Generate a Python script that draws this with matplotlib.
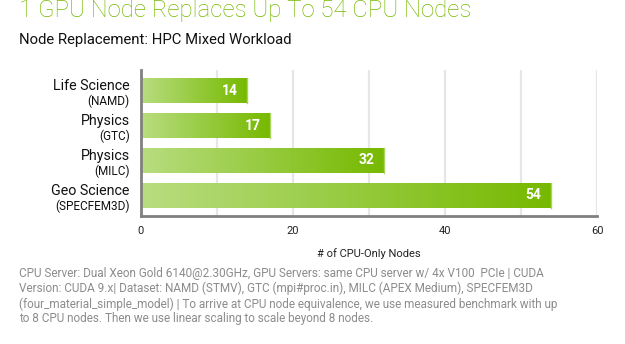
import numpy as np
import matplotlib.pyplot as plt
from matplotlib.colors import LinearSegmentedColormap

# data
domains = ['Life Science', 'Physics', 'Physics', 'Geo Science']
apps = ['(NAMD)', '(GTC)', '(MILC)', '(SPECFEM3D)']
cpu_nodes = [14, 17, 32, 54]
x_ticks = [0, 20, 40, 60]

title = '1 GPU Node Replaces Up To 54 CPU Nodes'
subtitle = 'Node Replacement: HPC Mixed Workload'
x_label = '# of CPU-Only Nodes'
footnote = ('CPU Server: Dual Xeon Gold 6140@2.30GHz, GPU Servers: same CPU server w/ 4x V100  PCIe | CUDA\n'
            'Version: CUDA 9.x| Dataset: NAMD (STMV), GTC (mpi#proc.in), MILC (APEX Medium), SPECFEM3D\n'
            '(four_material_simple_model) | To arrive at CPU node equivalence, we use measured benchmark with up\n'
            'to 8 CPU nodes. Then we use linear scaling to scale beyond 8 nodes.')

nv_green = '#76b900'
grad = LinearSegmentedColormap.from_list('nv', ['#b8dd80', nv_green])

plt.rcParams['font.family'] = ['Roboto', 'DejaVu Sans']

fig = plt.figure(figsize=(6.25, 3.44), dpi=100)
ax = fig.add_axes([141 / 625, 1 - 216 / 344, (597 - 141) / 625, (216 - 70) / 344])

y = np.arange(len(cpu_nodes))
bar_h = 0.71
bars = ax.barh(y, cpu_nodes, height=bar_h, color='none', edgecolor='none', zorder=2)

# fill each bar with its own left-to-right gradient
g = np.linspace(0, 1, 256).reshape(1, -1)
for b, v, yi in zip(bars, cpu_nodes, y):
    im = ax.imshow(g, cmap=grad, aspect='auto', interpolation='bilinear',
                   extent=[0, v, yi + bar_h / 2, yi - bar_h / 2], zorder=2)
    im.set_clip_path(b)
    ax.plot([v, v], [yi - bar_h / 2, yi + bar_h / 2], color='#a9d35c', lw=1, zorder=3)
    ax.text(v - 1.3, yi, str(v), color='white', ha='right', va='center',
            fontsize=10, fontweight='bold', zorder=4)

ax.set_xlim(0, 60)
ax.set_ylim(len(cpu_nodes) - 1 + 0.586, -0.586)

ax.set_xticks(np.arange(0, 61, 10), minor=True)
ax.set_xticks(x_ticks)
ax.set_xticklabels([str(t) for t in x_ticks], fontsize=8, color='#222222')
ax.xaxis.grid(True, which='both', color='#e6e6e6', lw=1.6, zorder=0)
ax.set_axisbelow(True)
ax.tick_params(axis='x', which='both', length=0, pad=7)
ax.set_yticks([])

for s in ['top', 'right']:
    ax.spines[s].set_visible(False)
for s in ['left', 'bottom']:
    ax.spines[s].set_color('#808080')
    ax.spines[s].set_linewidth(2)

ax.set_xlabel(x_label, fontsize=8, color='#222222', labelpad=9)

# two-line category labels
for yi, d, a in zip(y, domains, apps):
    ax.text(-1.5, yi - 0.13, d, ha='right', va='center', fontsize=10.3,
            color='#111111')
    ax.text(-1.5, yi + 0.30, a, ha='right', va='center', fontsize=8.5,
            color='#111111')

fig.text(19 / 625, 1 - 10 / 344, title, fontsize=17.3, color=nv_green,
         fontweight='light', va='center', ha='left')
fig.text(19 / 625, 1 - 40 / 344, subtitle, fontsize=10.7, color='#111111',
         va='center', ha='left')
fig.text(19 / 625, 1 - 267 / 344, footnote, fontsize=8.5, color='#8c8c8c',
         va='top', ha='left', linespacing=1.18)

fig.savefig('out.png', dpi=100)
